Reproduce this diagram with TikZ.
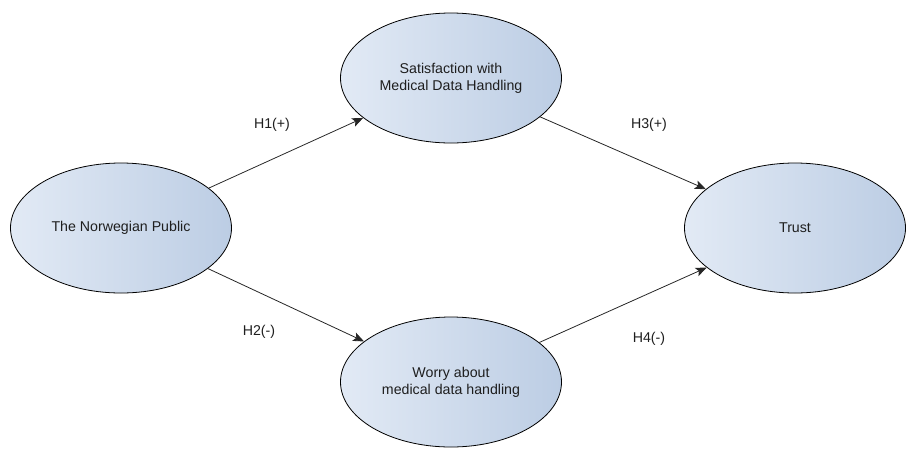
\documentclass[tikz,border=0pt]{standalone}
\usepackage{fontspec}
\setmainfont{Liberation Sans}
\usetikzlibrary{shapes.geometric,arrows.meta}
\definecolor{elllight}{RGB}{226,234,245}
\definecolor{elldark}{RGB}{188,205,228}
\definecolor{txt}{RGB}{30,30,30}
\tikzset{
  construct/.style={ellipse, draw=black, line width=0.8pt, left color=elllight, right color=elldark,
    minimum width=221pt, minimum height=130pt, inner sep=0pt, align=center,
    font=\fontsize{14.2}{17.3}\selectfont, text=txt},
  hyp/.style={-{Stealth[length=11pt,width=9pt,inset=2.5pt]}, line width=0.8pt, draw=black!85},
  hlabel/.style={font=\fontsize{14.2}{17}\selectfont, text=txt}
}
\begin{document}
\begin{tikzpicture}[x=1pt,y=-1pt]
\useasboundingbox (0,0) rectangle (907,448);
\node[construct] (pub) at (121,228) {The Norwegian Public};
\node[construct] (sat) at (451,78) {Satisfaction with\\Medical Data Handling};
\node[construct] (wor) at (451,382) {Worry about\\medical data handling};
\node[construct] (tru) at (795,228) {Trust};
\draw[hyp] (pub) -- (sat);
\draw[hyp] (pub) -- (wor);
\draw[hyp] (sat) -- (tru);
\draw[hyp] (wor) -- (tru);
\node[hlabel] (h1) at (272,125) {H1(+)};
\node[hlabel] (h2) at (259,332) {H2(-)};
\node[hlabel] (h3) at (649,125) {H3(+)};
\node[hlabel] (h4) at (649,339) {H4(-)};
\end{tikzpicture}
\end{document}
